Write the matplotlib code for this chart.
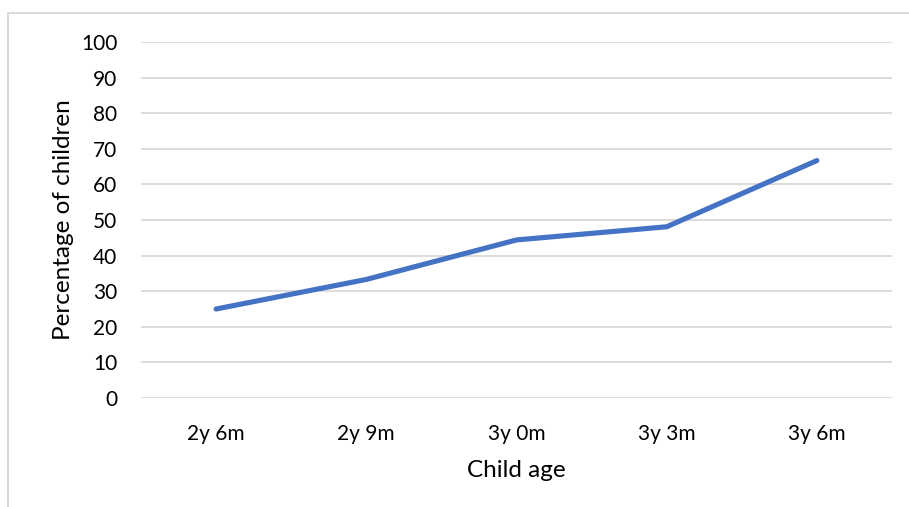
import matplotlib
matplotlib.use("Agg")
import matplotlib.pyplot as plt
from matplotlib.lines import Line2D

# Share of children reaching the milestone, by age
ages = ["2y 6m", "2y 9m", "3y 0m", "3y 3m", "3y 6m"]
percentages = [25.0, 33.3, 44.4, 48.1, 66.7]
y_ticks = [0, 10, 20, 30, 40, 50, 60, 70, 80, 90, 100]

plt.rcParams["font.family"] = ["Lato", "DejaVu Sans"]

W, H = 909, 507
fig = plt.figure(figsize=(W / 100, H / 100), dpi=100)
ax = fig.add_axes([141 / W, 1 - 398 / H, (892 - 141) / W, (398 - 42) / H])

x = list(range(len(ages)))
ax.plot(x, percentages, color="#4472C4", linewidth=3.7,
        solid_capstyle="round", solid_joinstyle="round", zorder=3)

ax.set_xlim(-0.5, len(ages) - 0.5)
ax.set_ylim(0, 100)
ax.set_yticks(y_ticks)
ax.set_xticks(x)
ax.set_xticklabels(ages)
ax.grid(axis="y", color="#D9D9D9", linewidth=1.3)
ax.set_axisbelow(True)
for s in ax.spines.values():
    s.set_visible(False)
ax.tick_params(axis="both", length=0, labelsize=15, colors="#000000")
ax.tick_params(axis="y", pad=17)
ax.tick_params(axis="x", pad=19)

ax.set_xlabel("Child age", fontsize=17.5, labelpad=11)
ax.set_ylabel("Percentage of children", fontsize=17.5, labelpad=5)

# chart-area frame (top and left edges)
fig.add_artist(Line2D([8 / W, 1.0], [1 - 13 / H, 1 - 13 / H],
                      transform=fig.transFigure, color="#D9D9D9", linewidth=1.4))
fig.add_artist(Line2D([8 / W, 8 / W], [0.0, 1 - 13 / H],
                      transform=fig.transFigure, color="#D9D9D9", linewidth=1.4))

fig.savefig("out.png", dpi=100, facecolor="white")
